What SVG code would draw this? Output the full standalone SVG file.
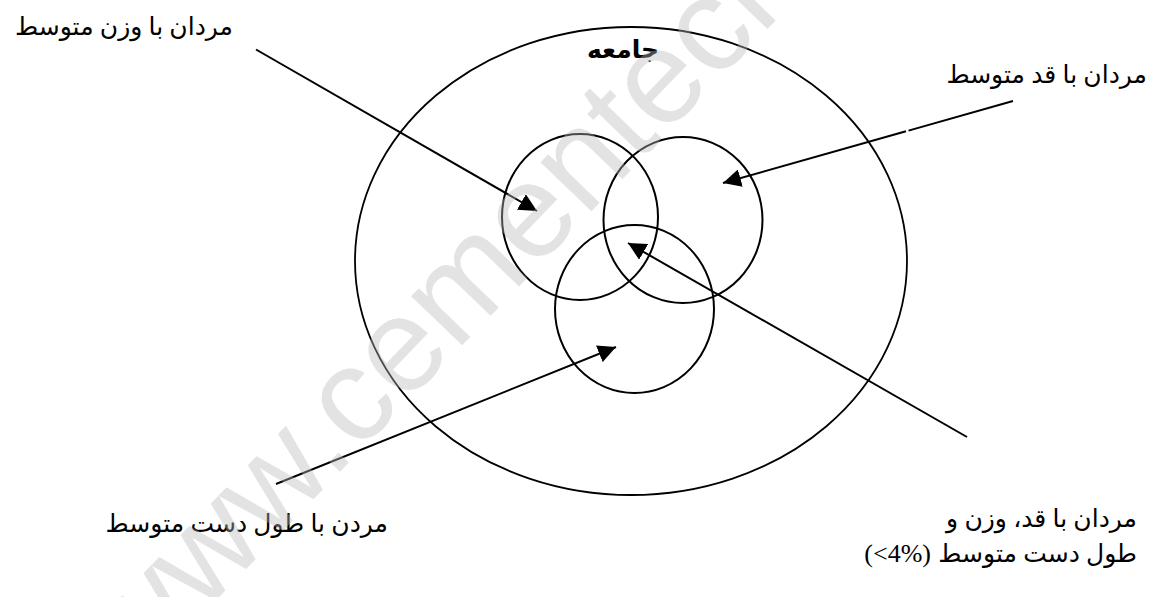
<svg xmlns="http://www.w3.org/2000/svg" width="1151" height="597" viewBox="0 0 1151 597">
<style>
.bg{fill:#ffffff}
.shape{fill:none;stroke:#000;stroke-width:2}
.outer{fill:none;stroke:#000;stroke-width:1.8}
.conn{fill:none;stroke:#000;stroke-width:2}
.lbl{font-family:'Liberation Serif','DejaVu Sans',serif;font-size:25px;fill:#000}
.lat{font-family:'Liberation Serif',serif;font-size:26px;fill:#000}
.wm{font-family:'Liberation Sans',Arial,sans-serif;font-size:134px;fill:#bababa;fill-opacity:0.4}
</style>
<defs>
<marker id="ah" markerUnits="userSpaceOnUse" markerWidth="20" markerHeight="18" refX="18" refY="9" orient="auto" viewBox="0 0 20 18">
<path d="M0,0 L18,9 L0,18 z" fill="#000"/>
</marker>
</defs>
<rect class="bg" x="0" y="0" width="1151" height="597"/>
<g id="population">
<ellipse class="outer" cx="631" cy="261" rx="276" ry="234"/>
<text class="lbl" x="623" y="58" text-anchor="middle" font-weight="bold" font-size="24">جامعه</text>
</g>
<g id="weight-set">
<ellipse class="shape" cx="580" cy="217" rx="78" ry="83"/>
</g>
<g id="height-set">
<ellipse class="shape" cx="683" cy="220" rx="79.5" ry="83"/>
</g>
<g id="arm-set">
<ellipse class="shape" cx="634.5" cy="309" rx="79.5" ry="84"/>
</g>
<g id="connectors">
<line class="conn" x1="256" y1="49.5" x2="537" y2="211" marker-end="url(#ah)"/>
<path class="conn" d="M1013,101 L908.5,130.6 M906,131.3 L723,183" marker-end="url(#ah)"/>
<line class="conn" x1="967" y1="437" x2="628" y2="243" marker-end="url(#ah)"/>
<line class="conn" x1="276" y1="484" x2="616" y2="347" marker-end="url(#ah)"/>
</g>
<g id="label-weight">
<text class="lbl" x="233" y="35" text-anchor="end">مردان با وزن متوسط</text>
</g>
<g id="label-height">
<text class="lbl" x="1147" y="83" text-anchor="end">مردان با قد متوسط</text>
</g>
<g id="label-arm">
<text class="lbl" x="388" y="532" text-anchor="end">مردن با طول دست متوسط</text>
</g>
<g id="label-all">
<text class="lbl" x="1137" y="527" text-anchor="end">مردان با قد، وزن و</text>
<text class="lbl" x="1137" y="562" text-anchor="end">طول دست متوسط</text>
<text class="lat" x="931" y="562" text-anchor="end">(&lt;4%)</text>
</g>
<g id="watermark">
<text class="wm" x="135" y="684" transform="rotate(-46 135 684)">www.cementechnology</text>
</g>
</svg>
